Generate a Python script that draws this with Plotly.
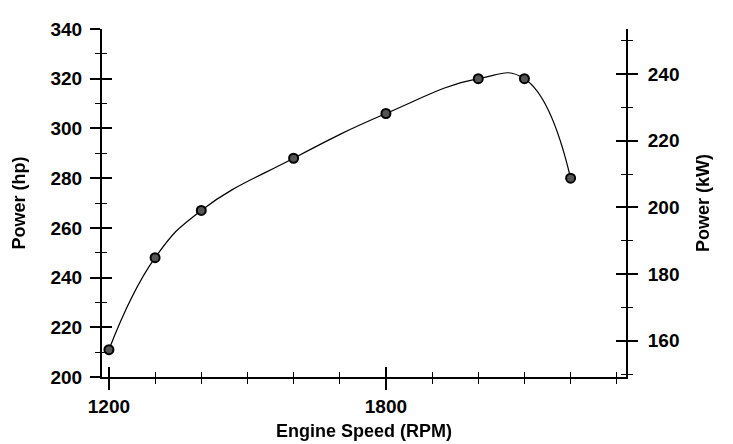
import plotly.graph_objects as go

rpm = [1200, 1300, 1400, 1600, 1800, 2000, 2100, 2200]
power_hp = [211, 248, 267, 288, 306, 320, 320, 280]

HP_TO_KW = 0.7457
x_range = [1185, 2320]
hp_range = [200, 340]
kw_range = [hp_range[0] * HP_TO_KW, hp_range[1] * HP_TO_KW]
power_kw = [v * HP_TO_KW for v in power_hp]

FONT = "Liberation Sans"
tick_font = dict(family=FONT, size=19, color="black", weight="bold")
title_font = dict(family=FONT, size=18, color="black", weight="bold")

fig = go.Figure()
fig.add_trace(go.Scatter(
    x=rpm, y=power_hp, mode="lines+markers",
    line=dict(color="black", width=1.2, shape="spline", smoothing=1.3),
    marker=dict(size=9, color="#555555", line=dict(color="black", width=2)),
    xaxis="x", yaxis="y", showlegend=False,
))
# invisible helpers so the secondary/overlay axes are drawn
fig.add_trace(go.Scatter(x=rpm, y=power_kw, mode="markers", opacity=0,
                         xaxis="x", yaxis="y2", showlegend=False, hoverinfo="skip"))
fig.add_trace(go.Scatter(x=rpm, y=power_hp, mode="markers", opacity=0,
                         xaxis="x2", yaxis="y3", showlegend=False, hoverinfo="skip"))
fig.add_trace(go.Scatter(x=rpm, y=power_kw, mode="markers", opacity=0,
                         xaxis="x2", yaxis="y4", showlegend=False, hoverinfo="skip"))

common = dict(showgrid=False, zeroline=False, automargin=False)

fig.update_layout(
    width=725, height=436,
    margin=dict(l=94, r=107, t=21, b=67),
    paper_bgcolor="white", plot_bgcolor="white",
    font=dict(family=FONT, color="black"),
    xaxis=dict(
        range=x_range, tick0=1200, dtick=600, ticks="outside", ticklen=11,
        tickwidth=2, tickcolor="black", showline=True, linecolor="black", linewidth=2,
        tickfont=tick_font, ticklabelstandoff=0,
        minor=dict(dtick=100, tick0=1200, ticks="outside", ticklen=5, tickwidth=1, tickcolor="black"),
        title=dict(text="Engine Speed (RPM)", font=title_font, standoff=9),
        anchor="y", **common,
    ),
    xaxis2=dict(
        range=x_range, tick0=1200, dtick=600, ticks="inside", ticklen=10,
        tickwidth=2, tickcolor="black", showline=False, showticklabels=False,
        minor=dict(dtick=100, tick0=1200, ticks="inside", ticklen=5, tickwidth=1, tickcolor="black"),
        overlaying="x", anchor="y", side="bottom", **common,
    ),
    yaxis=dict(
        range=hp_range, dtick=20, ticks="outside", ticklen=10, tickwidth=2,
        tickcolor="black", showline=True, linecolor="black", linewidth=2,
        tickfont=tick_font, ticklabelstandoff=4,
        minor=dict(dtick=10, ticks="outside", ticklen=5, tickwidth=1, tickcolor="black"),
        title=dict(text="Power (hp)", font=title_font, standoff=20),
        anchor="x", **common,
    ),
    yaxis3=dict(
        range=hp_range, dtick=20, ticks="inside", ticklen=10, tickwidth=2,
        tickcolor="black", showline=False, showticklabels=False,
        minor=dict(dtick=10, ticks="inside", ticklen=5, tickwidth=1, tickcolor="black"),
        overlaying="y", side="left", anchor="x", **common,
    ),
    yaxis2=dict(
        range=kw_range, dtick=20, ticks="outside", ticklen=10, tickwidth=2,
        tickcolor="black", showline=True, linecolor="black", linewidth=2,
        tickfont=tick_font, ticklabelstandoff=6,
        minor=dict(dtick=10, ticks="outside", ticklen=5, tickwidth=1, tickcolor="black"),
        title=dict(text="Power (kW)", font=title_font, standoff=18),
        overlaying="y", side="right", anchor="x", **common,
    ),
    yaxis4=dict(
        range=kw_range, dtick=20, ticks="inside", ticklen=10, tickwidth=2,
        tickcolor="black", showline=False, showticklabels=False,
        minor=dict(dtick=10, ticks="inside", ticklen=5, tickwidth=1, tickcolor="black"),
        overlaying="y", side="right", anchor="x", **common,
    ),
)

fig.write_html("out.html")
